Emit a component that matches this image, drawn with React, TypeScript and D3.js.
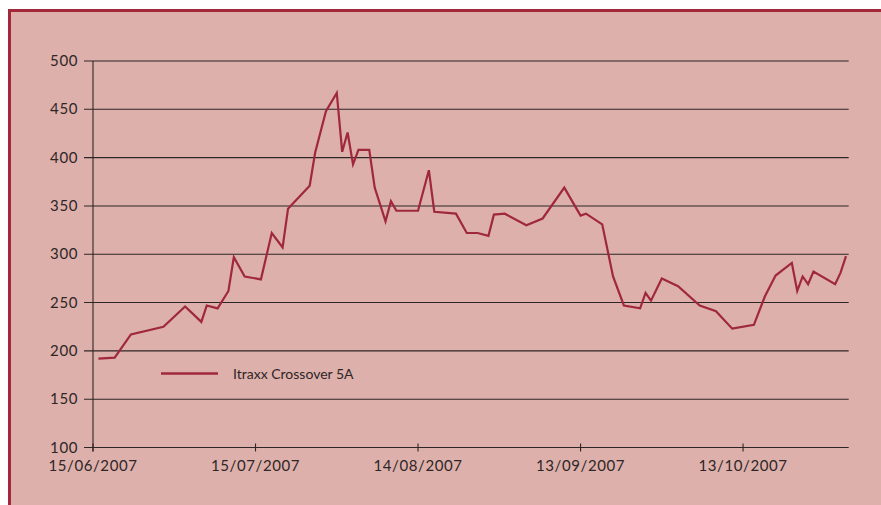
import React from 'react';
import * as d3 from 'd3';

// Itraxx Crossover 5A
const dates = [
  '2007-06-16', '2007-06-19', '2007-06-22', '2007-06-28', '2007-07-02', '2007-07-05',
  '2007-07-06', '2007-07-08', '2007-07-10', '2007-07-11', '2007-07-13', '2007-07-16',
  '2007-07-18', '2007-07-20', '2007-07-21', '2007-07-25', '2007-07-26', '2007-07-28',
  '2007-07-30', '2007-07-31', '2007-08-01', '2007-08-02', '2007-08-03', '2007-08-05',
  '2007-08-06', '2007-08-08', '2007-08-09', '2007-08-10', '2007-08-14', '2007-08-16',
  '2007-08-17', '2007-08-21', '2007-08-23', '2007-08-25', '2007-08-27', '2007-08-28',
  '2007-08-30', '2007-09-03', '2007-09-06', '2007-09-10', '2007-09-13', '2007-09-14',
  '2007-09-17', '2007-09-19', '2007-09-21', '2007-09-24', '2007-09-25', '2007-09-26',
  '2007-09-28', '2007-10-01', '2007-10-05', '2007-10-08', '2007-10-11', '2007-10-15',
  '2007-10-17', '2007-10-19', '2007-10-22', '2007-10-23', '2007-10-24', '2007-10-25',
  '2007-10-26', '2007-10-30', '2007-10-31', '2007-11-01',
];
const values = [
  192, 193, 217, 225, 246, 230,
  247, 244, 262, 297, 277, 274,
  322, 307, 347, 371, 405, 448,
  467, 406, 426, 393, 408, 408,
  369, 334, 355, 345, 345, 387,
  344, 342, 322, 322, 319, 341,
  342, 330, 337, 369, 340, 342,
  331, 277, 247, 244, 260, 252,
  275, 267, 247, 241, 223, 227,
  256, 278, 291, 262, 277, 269,
  282, 269, 281, 298,
];
const xTicks = ['2007-06-15', '2007-07-15', '2007-08-14', '2007-09-13', '2007-10-13'];
const yTicks = [100, 150, 200, 250, 300, 350, 400, 450, 500];
const seriesName = 'Itraxx Crossover 5A';

const parse = d3.utcParse('%Y-%m-%d');
const fmt = d3.utcFormat('%d/%m/%Y');

const W = 881;
const H = 505;
const BG = '#ddb0ab';
const FRAME = '#a3283a';
const LINE = '#a0283c';
const INK = '#2e2626';
const FONT = 'Lato, "DejaVu Sans", sans-serif';

export default function App() {
  const x = d3
    .scaleUtc()
    .domain([parse('2007-06-15')!, new Date(Date.UTC(2007, 10, 1, 12))])
    .range([93, 848.7]);
  const y = d3.scaleLinear().domain([100, 500]).range([447.5, 61]);

  const pts: [Date, number][] = dates.map((d, i) => [parse(d)!, values[i]]);
  const line = d3
    .line<[Date, number]>()
    .x((d) => x(d[0]))
    .y((d) => y(d[1]));

  const [x0, x1] = x.range();
  const yBase = y(100);

  return (
    <svg
      width={W}
      height={H}
      style={{ position: 'absolute', left: 0, top: 0, background: '#fff' }}
    >
      <rect x={9.5} y={10.5} width={W + 20} height={H + 20} fill={BG} stroke={FRAME} strokeWidth={3} />

      {/* gridlines */}
      {yTicks.map((t) => (
        <g key={t}>
          <line x1={x0 - 9} x2={x1} y1={y(t)} y2={y(t)} stroke={INK} strokeWidth={1.1} />
          <text
            x={x0 - 15}
            y={y(t) + 5}
            textAnchor="end"
            fontFamily={FONT}
            fontSize={15}
            letterSpacing={0.6}
            fill={INK}
          >
            {t}
          </text>
        </g>
      ))}

      {/* y axis */}
      <line x1={x0} x2={x0} y1={y(500)} y2={yBase + 4} stroke={INK} strokeWidth={1.1} />

      {/* x ticks */}
      {xTicks.map((t) => {
        const px = x(parse(t)!);
        return (
          <g key={t}>
            <line x1={px} x2={px} y1={yBase - 4} y2={yBase + 4} stroke={INK} strokeWidth={1.1} />
            <text
              x={px}
              y={yBase + 23}
              textAnchor="middle"
              fontFamily={FONT}
              fontSize={15}
              letterSpacing={0.6}
              fill={INK}
            >
              {fmt(parse(t)!)}
            </text>
          </g>
        );
      })}

      <path d={line(pts) || ''} fill="none" stroke={LINE} strokeWidth={2.2} strokeLinejoin="miter" />

      {/* legend */}
      <line x1={161} x2={218} y1={373.5} y2={373.5} stroke={LINE} strokeWidth={2.5} />
      <text x={233} y={378.5} fontFamily={FONT} fontSize={14} fill={INK}>
        {seriesName}
      </text>
    </svg>
  );
}
